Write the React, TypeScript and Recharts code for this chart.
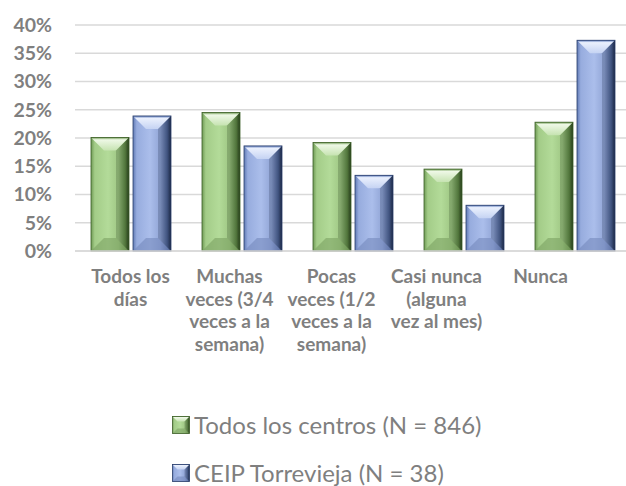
import React from 'react';
import { BarChart, Bar, XAxis, YAxis, CartesianGrid, Legend } from 'recharts';

const categories = [
  'Todos los días',
  'Muchas veces (3/4 veces a la semana)',
  'Pocas veces (1/2 veces a la semana)',
  'Casi nunca (alguna vez al mes)',
  'Nunca',
];
const categoryLines = [
  ['Todos los', 'días'],
  ['Muchas', 'veces (3/4', 'veces a la', 'semana)'],
  ['Pocas', 'veces (1/2', 'veces a la', 'semana)'],
  ['Casi nunca', '(alguna', 'vez al mes)'],
  ['Nunca'],
];
const todosValues = [20.1, 24.5, 19.2, 14.5, 22.8];
const ceipValues = [23.9, 18.6, 13.4, 8.1, 37.3];
const yTicks = [0, 5, 10, 15, 20, 25, 30, 35, 40];
const seriesNames = ['Todos los centros (N = 846)', 'CEIP Torrevieja (N = 38)'];

const data = categories.map((c, i) => ({
  name: c,
  todos: todosValues[i],
  ceip: ceipValues[i],
}));

const GREEN = {
  id: 'g',
  body: ['#6f9a55', '#a3cc88', '#b3db99', '#9fc784', '#5f8846', '#263c1a'],
  top: ['#6d9a50', '#eef8e6', '#c6e3b1'],
  bottom: '#7ba262',
  stroke: '#3d5f28',
};
const BLUE = {
  id: 'b',
  body: ['#607ab5', '#97acde', '#abbeeb', '#91a5d6', '#4b6091', '#1c2743'],
  top: ['#5a78bb', '#eaf0fd', '#c5d3f3'],
  bottom: '#7588bd',
  stroke: '#2a3e6a',
};

const TEXT_GRAY = '#7f7f7f';
const FONT = 'Lato, "DejaVu Sans", sans-serif';
const LABEL_SHIFT = [0, -12, -21, -27, -34];

function BevelRect({ x, y, w, h, pal, uid, bevel }: any) {
  if (!(w > 0) || !(h > 0)) return null;
  const b = Math.min(bevel, w / 2 - 1, h / 2);
  const gb = `body-${uid}`;
  const gt = `top-${uid}`;
  return (
    <g>
      <defs>
        <linearGradient id={gb} x1="0" y1="0" x2="1" y2="0">
          <stop offset="0%" stopColor={pal.body[0]} />
          <stop offset="10%" stopColor={pal.body[1]} />
          <stop offset="45%" stopColor={pal.body[2]} />
          <stop offset="72%" stopColor={pal.body[3]} />
          <stop offset="90%" stopColor={pal.body[4]} />
          <stop offset="100%" stopColor={pal.body[5]} />
        </linearGradient>
        <linearGradient id={gt} x1="0" y1="0" x2="0" y2="1">
          <stop offset="0%" stopColor={pal.top[0]} />
          <stop offset="18%" stopColor={pal.top[1]} />
          <stop offset="100%" stopColor={pal.top[2]} />
        </linearGradient>
      </defs>
      <rect x={x} y={y} width={w} height={h} fill={`url(#${gb})`} />
      <polygon
        points={`${x},${y} ${x + w},${y} ${x + w - b},${y + b} ${x + b},${y + b}`}
        fill={`url(#${gt})`}
      />
      <polygon
        points={`${x},${y + h} ${x + w},${y + h} ${x + w - b},${y + h - b} ${x + b},${y + h - b}`}
        fill={pal.bottom}
        opacity={0.6}
      />
      <polygon
        points={`${x + w},${y} ${x + w},${y + h} ${x + w - b},${y + h - b} ${x + w - b},${y + b}`}
        fill={pal.body[5]}
        opacity={0.22}
      />
      <rect x={x} y={y} width={w} height={h} fill="none" stroke={pal.stroke} strokeWidth={0.8} />
    </g>
  );
}

const makeShape = (pal: any) => (props: any) => (
  <BevelRect
    x={props.x}
    y={props.y}
    w={props.width}
    h={props.height}
    pal={pal}
    uid={`${pal.id}${props.index}`}
    bevel={13}
  />
);

const XTick = (props: any) => {
  const { x, y, index } = props;
  const lines = categoryLines[index] || [];
  const cx = x + (LABEL_SHIFT[index] || 0);
  return (
    <text textAnchor="middle" fill={TEXT_GRAY} fontFamily={FONT} fontWeight={700} fontSize={19}>
      {lines.map((l, i) => (
        <tspan key={i} x={cx} y={y + 32 + i * 22.5}>
          {l}
        </tspan>
      ))}
    </text>
  );
};

const LegendBox = () => {
  const pals = [GREEN, BLUE];
  const tops = [23, 71];
  return (
    <div style={{ position: 'relative', height: 96, width: 626 }}>
      {seriesNames.map((n, i) => (
        <div
          key={n}
          style={{
            position: 'absolute',
            left: 172,
            top: tops[i],
            height: 24,
            display: 'flex',
            alignItems: 'center',
            whiteSpace: 'nowrap',
          }}
        >
          <svg width={19} height={18} style={{ display: 'block' }}>
            <BevelRect x={0.5} y={0.5} w={17} h={17} pal={pals[i]} uid={`leg${i}`} bevel={5} />
          </svg>
          <span
            style={{
              marginLeft: 3,
              fontFamily: FONT,
              fontSize: 24,
              color: TEXT_GRAY,
              lineHeight: '24px',
            }}
          >
            {n}
          </span>
        </div>
      ))}
    </div>
  );
};

export default function App() {
  return (
    <div
      style={{
        position: 'absolute',
        left: 0,
        top: 0,
        width: 626,
        height: 486,
        overflow: 'hidden',
        background: '#ffffff',
        fontFamily: FONT,
      }}
    >
      <BarChart
        width={640}
        height={486}
        data={data}
        margin={{ top: 25, right: 10, bottom: 0, left: 0 }}
        barSize={38}
        barGap={4}
      >
        <CartesianGrid vertical={false} stroke="#d9d9d9" strokeWidth={1.5} />
        <XAxis
          dataKey="name"
          height={139}
          tickLine={false}
          tickSize={0}
          tickMargin={0}
          axisLine={{ stroke: '#d9d9d9', strokeWidth: 1.5 }}
          tick={<XTick />}
          interval={0}
        />
        <YAxis
          width={75}
          domain={[0, 40]}
          ticks={yTicks}
          tickFormatter={(v: number) => `${v}%`}
          axisLine={false}
          tickLine={false}
          tickSize={0}
          tickMargin={23}
          interval={0}
          tick={{ fill: TEXT_GRAY, fontFamily: FONT, fontWeight: 700, fontSize: 19.5 }}
        />
        <Legend
          verticalAlign="bottom"
          content={() => <LegendBox />}
          wrapperStyle={{ left: 0, width: 626, height: 96 }}
        />
        <Bar dataKey="todos" name={seriesNames[0]} isAnimationActive={false} shape={makeShape(GREEN)} />
        <Bar dataKey="ceip" name={seriesNames[1]} isAnimationActive={false} shape={makeShape(BLUE)} />
      </BarChart>
    </div>
  );
}
